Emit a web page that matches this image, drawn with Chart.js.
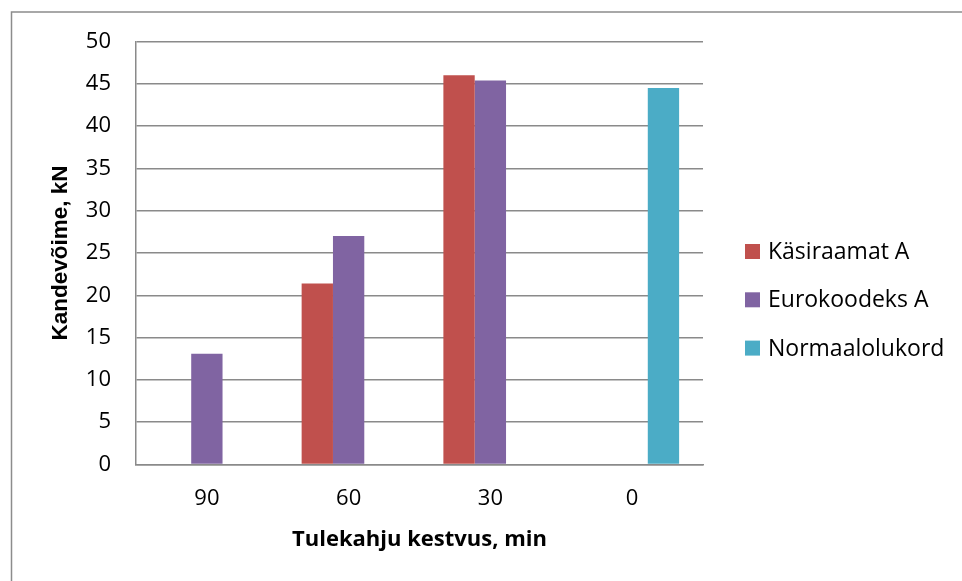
<!DOCTYPE html>
<html>
<head>
<meta charset="utf-8">
<script src="https://cdn.jsdelivr.net/npm/chart.js@4"></script>
<style>
  html, body { margin: 0; padding: 0; background: #fff; }
  #wrap { position: relative; width: 962px; height: 581px; }
</style>
</head>
<body>
<div id="wrap"><canvas id="c" width="962" height="581"></canvas></div>
<script>
// Fire duration categories (minutes)
const categories = ['90', '60', '30', '0'];

// Load-bearing capacity, kN (null = no bar for that case)
const kasiraamatA = [null, 21.4, 46.0, null];
const eurokoodeksA = [13.1, 27.0, 45.4, null];
const normaalolukord = [null, null, null, 44.5];

const seriesNames = ['Käsiraamat A', 'Eurokoodeks A', 'Normaalolukord'];
const seriesColors = ['#C0504D', '#8064A2', '#4BACC6'];

const yTicks = { min: 0, max: 50, step: 5 };

const gridGray = '#8a8a8a';
const textFont = 'Open Sans';

// Frame around the whole chart object
const framePlugin = {
  id: 'frame',
  beforeDraw(chart) {
    const ctx = chart.ctx;
    ctx.save();
    ctx.fillStyle = '#fff';
    ctx.fillRect(0, 0, chart.width, chart.height);
    ctx.strokeStyle = '#8c8c8c';
    ctx.lineWidth = 1.5;
    ctx.strokeRect(11.5, 12, chart.width + 20, chart.height + 20);
    ctx.restore();
  }
};

// Legend to the right of the plot
const sideLegend = {
  id: 'sideLegend',
  afterDraw(chart) {
    const ctx = chart.ctx;
    ctx.save();
    ctx.font = '23px "' + textFont + '"';
    ctx.textBaseline = 'middle';
    ctx.textAlign = 'left';
    chart.data.datasets.forEach((ds, i) => {
      const cy = 251.5 + i * 48.3;
      ctx.fillStyle = ds.backgroundColor;
      ctx.fillRect(745, cy - 7.5, 15, 15);
      ctx.fillStyle = '#000';
      ctx.fillText(ds.label, 768, cy + 1);
    });
    ctx.restore();
  }
};

new Chart(document.getElementById('c'), {
  type: 'bar',
  data: {
    labels: categories,
    datasets: [
      { label: seriesNames[0], data: kasiraamatA, backgroundColor: seriesColors[0] },
      { label: seriesNames[1], data: eurokoodeksA, backgroundColor: seriesColors[1] },
      { label: seriesNames[2], data: normaalolukord, backgroundColor: seriesColors[2] }
    ]
  },
  options: {
    responsive: false,
    animation: false,
    devicePixelRatio: 1,
    layout: { padding: { left: 0, top: 41.5, right: 259, bottom: 0 } },
    datasets: { bar: { categoryPercentage: 0.663, barPercentage: 1.0, borderWidth: 0 } },
    plugins: {
      legend: { display: false },
      tooltip: { enabled: false }
    },
    scales: {
      x: {
        grid: { display: false, drawTicks: false },
        border: { display: true, color: gridGray, width: 1.5 },
        ticks: {
          color: '#000',
          font: { family: textFont, size: 22 },
          padding: 21,
          maxRotation: 0
        },
        title: {
          display: true,
          text: 'Tulekahju kestvus, min',
          color: '#000',
          font: { family: textFont, size: 22, weight: 'bold' },
          padding: { top: 0, bottom: 28 }
        },
        afterFit(scale) { scale.height = 116.5; }
      },
      y: {
        min: yTicks.min,
        max: yTicks.max,
        grid: { color: gridGray, lineWidth: 1.5, drawTicks: false },
        border: { display: true, color: gridGray, width: 1.5 },
        ticks: {
          stepSize: yTicks.step,
          color: '#000',
          font: { family: textFont, size: 22 },
          padding: 25
        },
        title: {
          display: true,
          text: 'Kandevõime, kN',
          color: '#000',
          font: { family: 'Liberation Sans', size: 22.5, weight: 'bold' },
          padding: { top: 47, bottom: 0 }
        },
        afterFit(scale) { scale.width = 136; }
      }
    }
  },
  plugins: [framePlugin, sideLegend]
});
</script>
</body>
</html>
